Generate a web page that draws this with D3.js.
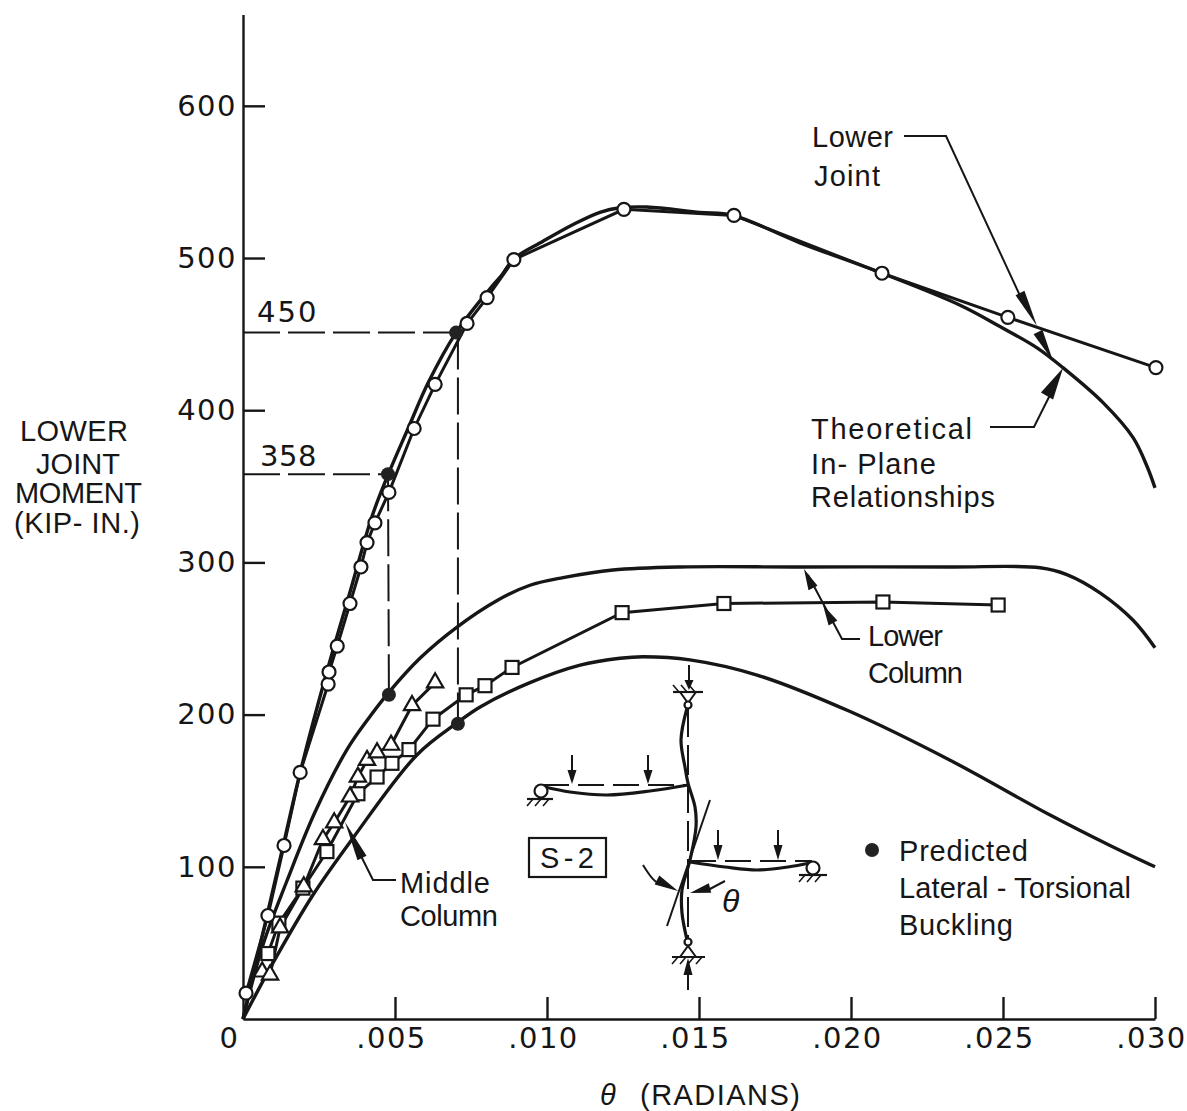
<!DOCTYPE html>
<html>
<head>
<meta charset="utf-8">
<script src="https://cdn.jsdelivr.net/npm/d3@7"></script>
<style>
  body { margin: 0; background: #fff; }
  text { fill: #161616; }
  .axis text, .num { font-family: "DejaVu Sans", sans-serif; font-size: 29px; letter-spacing: 1.5px; }
  .axis line, .axis path { stroke: #161616; stroke-width: 2.4px; }
  .note { font-family: "Liberation Sans", Arial, sans-serif; font-size: 29px; }
</style>
</head>
<body>
<div id="chart"></div>
<script>
// Tick labels
const xTicks = [0, 0.005, 0.010, 0.015, 0.020, 0.025, 0.030];
const xTickLabels = ["0", ".005", ".010", ".015", ".020", ".025", ".030"];
const yTicks = [100, 200, 300, 400, 500, 600];

// Test points: rotation, moment
const circleTheta = [.0001, .00082, .00135, .00188, .0028, .00283, .0031, .00352, .00388, .00408, .00434, .0048, .00563, .00632, .00737, .00803, .00891, .01253, .01615, .02102, .02516, .03003];
const circleMoment = [17, 68, 114, 162, 220, 228, 245, 273, 297, 313, 326, 346, 388, 417, 457, 474, 499, 532, 528, 490, 461, 428];

const squareTheta = [.00082, .00118, .00197, .00276, .00378, .00441, .0049, .00546, .00625, .00734, .00796, .00885, .01247, .01582, .02105, .02484];
const squareMoment = [43, 63, 86, 110, 148, 159, 168, 177, 197, 213, 219, 231, 267, 273, 274, 272];

const triangleTheta = [.00063, .00089, .00122, .002, .00263, .003, .00352, .00378, .00408, .00441, .00487, .00556, .00632];
const triangleMoment = [31, 29, 60, 87, 118, 129, 146, 159, 170, 175, 180, 206, 221];

// Predicted lateral-torsional buckling
const buckTheta = [.00477, .00701, .0048, .00707];
const buckMoment = [358, 451, 213, 194];

// Theoretical in-plane curves
const jointTheta = [0, .00072, .00138, .00188, .00273, .00352, .00424, .00477, .00543, .00609, .00701, .00813, .00852, .00891, .00987, .01086, .01174, .0124, .01329, .01503, .01612, .01832, .02102, .02359, .0249, .02612, .02697, .02829, .02928, .02974, .03];
const jointMoment = [0, 62, 119, 162, 226, 280.5, 330, 357.5, 388, 418, 451, 480, 489, 499.5, 511, 522, 530, 533, 533.5, 530, 528, 510, 490, 469, 455, 441, 428, 405, 382, 363, 349];

const lowerTheta = [0, .00066, .00145, .00237, .00342, .00411, .00477, .00582, .00704, .00836, .00944, .01053, .01217, .01438, .01832, .02326, .02622, .0271, .02819, .02928, .03];
const lowerMoment = [0, 49, 91, 136, 177, 197, 214, 237, 257.5, 275, 285, 290, 295, 297, 297, 297, 296.5, 292, 280, 262, 244];

const middleTheta = [0, .00099, .0023, .00362, .00572, .00704, .0078, .00944, .01109, .0124, .01316, .0147, .01691, .01997, .02326, .02655, .02852, .03];
const middleMoment = [0, 37, 81.5, 119, 173.5, 194.5, 205, 221, 232.5, 237, 238, 236, 226, 202, 170, 134, 114, 100];

const svgW = 1187, svgH = 1111;
const ink = "#161616";

const svg = d3.select("#chart").append("svg")
    .attr("width", svgW)
    .attr("height", svgH)
    .style("display", "block");

const xScale = d3.scaleLinear().domain([0, 0.030]).range([243, 1155]);
const yScale = d3.scaleLinear().domain([0, 660]).range([1019, 14.5]);

// X axis, ticks point up into the plot
const xAxis = svg.append("g")
    .attr("class", "axis")
    .attr("transform", `translate(0, ${yScale(0)})`)
    .call(d3.axisBottom(xScale).tickValues(xTicks)
        .tickFormat((d, i) => xTickLabels[i])
        .tickSize(-22).tickSizeOuter(0).tickPadding(8));
xAxis.selectAll("text").attr("dx", (d, i) => i === 0 ? -14 : -4);
xAxis.selectAll(".tick").filter(d => d === 0).select("line").remove();

// Y axis, ticks point right
const yAxis = svg.append("g")
    .attr("class", "axis")
    .attr("transform", `translate(${xScale(0)}, 0)`)
    .call(d3.axisLeft(yScale).tickValues(yTicks)
        .tickSize(-22).tickSizeOuter(0).tickPadding(6));

const zip = (xs, ys) => xs.map((x, i) => ({ x, y: ys[i] }));

const smooth = d3.line().x(d => xScale(d.x)).y(d => yScale(d.y)).curve(d3.curveCatmullRom.alpha(0.5));
const straight = d3.line().x(d => xScale(d.x)).y(d => yScale(d.y));

// Dashed guides to the buckling points
const guides = [
    [{ x: 0, y: 451 }, { x: buckTheta[1], y: 451 }],
    [{ x: 0, y: 358 }, { x: buckTheta[0], y: 358 }],
    [{ x: buckTheta[0], y: 358 }, { x: buckTheta[2], y: 213 }],
    [{ x: buckTheta[3], y: 451 }, { x: buckTheta[3], y: 194 }]
];
svg.selectAll(".guide").data(guides).join("path")
    .attr("class", "guide")
    .attr("d", straight)
    .attr("fill", "none")
    .attr("stroke", ink)
    .attr("stroke-width", 2)
    .attr("stroke-dasharray", "37 8");

// Theoretical curves
[[jointTheta, jointMoment], [lowerTheta, lowerMoment], [middleTheta, middleMoment]].forEach(([t, m]) => {
    svg.append("path")
        .attr("d", smooth(zip(t, m)))
        .attr("fill", "none")
        .attr("stroke", ink)
        .attr("stroke-width", 3.4);
});

// Test lines
[[circleTheta, circleMoment], [squareTheta, squareMoment], [triangleTheta, triangleMoment]].forEach(([t, m]) => {
    svg.append("path")
        .attr("d", straight(zip(t, m)))
        .attr("fill", "none")
        .attr("stroke", ink)
        .attr("stroke-width", 3);
});

// Markers
const markerStyle = sel => sel.attr("fill", "#fff").attr("stroke", ink).attr("stroke-width", 2.2);

svg.selectAll(".sq").data(zip(squareTheta, squareMoment)).join("rect")
    .attr("class", "sq")
    .attr("x", d => xScale(d.x) - 6.5)
    .attr("y", d => yScale(d.y) - 6.5)
    .attr("width", 13)
    .attr("height", 13)
    .call(markerStyle);

svg.selectAll(".tri").data(zip(triangleTheta, triangleMoment)).join("path")
    .attr("class", "tri")
    .attr("d", d3.symbol(d3.symbolTriangle, 115))
    .attr("transform", d => `translate(${xScale(d.x)}, ${yScale(d.y)})`)
    .call(markerStyle);

svg.selectAll(".circ").data(zip(circleTheta, circleMoment)).join("circle")
    .attr("class", "circ")
    .attr("cx", d => xScale(d.x))
    .attr("cy", d => yScale(d.y))
    .attr("r", 6.5)
    .call(markerStyle);

svg.selectAll(".buck").data(zip(buckTheta, buckMoment)).join("circle")
    .attr("class", "buck")
    .attr("cx", d => xScale(d.x))
    .attr("cy", d => yScale(d.y))
    .attr("r", 7)
    .attr("fill", "#222");

// Helpers for the annotations
function poly(points, width = 2, fill = "none") {
    return svg.append("path")
        .attr("d", d3.line()(points))
        .attr("fill", fill)
        .attr("stroke", ink)
        .attr("stroke-width", width);
}
function curve(points, width = 3.2) {
    return svg.append("path")
        .attr("d", d3.line().curve(d3.curveCatmullRom)(points))
        .attr("fill", "none")
        .attr("stroke", ink)
        .attr("stroke-width", width);
}
function head(x0, y0, x1, y1, w = 5) {
    const len = Math.hypot(x1 - x0, y1 - y0);
    const nx = -(y1 - y0) / len * w, ny = (x1 - x0) / len * w;
    svg.append("path")
        .attr("d", d3.line()([[x0 + nx, y0 + ny], [x1, y1], [x0 - nx, y0 - ny]]) + "Z")
        .attr("fill", ink);
}
// text stretched to the width it has in the picture
function label(x, y, str, len, anchor = "start", cls = "note") {
    return svg.append("text")
        .attr("class", cls)
        .attr("x", x)
        .attr("y", y)
        .attr("text-anchor", anchor)
        .attr("textLength", len)
        .text(str);
}
function hatch(x0, x1, y, down) {
    poly([[x0, y], [x1, y]], 2.2);
    for (let x = x0 + 6; x < x1; x += 8) {
        poly([[x, y], [x - 6, y + (down ? 7 : -7)]], 1.6);
    }
}

// Axis titles
label(20, 441, "LOWER", 108);
label(36, 474, "JOINT", 84);
label(15, 503, "MOMENT", 127);
label(14, 533, "(KIP- IN.)", 126);
label(600, 1105, "θ", 22).style("font-style", "italic");
label(640, 1105, "(RADIANS)", 160);

label(257, 322, "450", 61, "start", "num");
label(260, 466, "358", 58, "start", "num");

// Curve labels and leaders
label(812, 147, "Lower", 81);
label(814, 186, "Joint", 66);
poly([[904, 136], [946, 136], [1022, 300]]);
head(1020, 293, 1037, 326);
head(1038, 332, 1053, 361);

label(811, 439, "Theoretical", 161);
label(811, 474, "In- Plane", 125);
label(811, 507, "Relationships", 184);
poly([[990, 427], [1034, 427], [1050, 395]]);
head(1047, 396, 1063, 368, 7);

label(868, 646, "Lower", 75);
label(868, 683, "Column", 95);
poly([[860, 639], [842, 639], [808, 575]]);
head(813, 588, 804, 569);
head(833, 623, 823, 605);

label(400, 893, "Middle", 90);
label(400, 926, "Column", 98);
poly([[396, 880], [373, 880], [358, 850]]);
head(362, 858, 345, 822);

// Legend for the predicted points
svg.append("circle").attr("cx", 872).attr("cy", 850).attr("r", 7).attr("fill", "#222");
label(899, 861, "Predicted", 129);
label(899, 898, "Lateral - Torsional", 232);
label(899, 935, "Buckling", 114);

// Test frame sketch
svg.append("rect")
    .attr("x", 529).attr("y", 838).attr("width", 77).attr("height", 39)
    .attr("fill", "#fff").attr("stroke", ink).attr("stroke-width", 2.2);
label(540, 868, "S-2", 54);

poly([[688, 707], [688, 943]], 2).attr("stroke-dasharray", "30 8");
curve([[687, 708], [681, 740], [685, 767], [688, 783], [695, 807], [696, 827], [690, 860], [682, 890], [682, 913], [687, 940]]);
poly([[710, 800], [667, 926]], 2);

poly([[543, 785], [688, 785]], 2).attr("stroke-dasharray", "26 9");
curve([[688, 785], [650, 791], [607, 795], [570, 792], [545, 787]]);
poly([[690, 861], [812, 861]], 2).attr("stroke-dasharray", "26 9");
curve([[690, 862], [725, 867], [757, 870], [788, 867], [810, 863]]);

// Pins and supports
const pins = [[688, 705, 3.5], [688, 942, 3.5], [541, 791, 6.5], [813, 868, 6.5]];
hatch(673, 703, 692, false);
poly([[680, 692], [688, 703], [696, 692]], 2);
hatch(672, 705, 957, true);
poly([[680, 957], [688, 946], [696, 957]], 2);
hatch(527, 553, 799, true);
hatch(799, 827, 875, true);
pins.forEach(p => {
    svg.append("circle").attr("cx", p[0]).attr("cy", p[1]).attr("r", p[2])
        .attr("fill", "#fff").attr("stroke", ink).attr("stroke-width", 2.2);
});

// Load arrows
[[689, 665, 680, 690], [688, 990, 975, 958], [572, 755, 770, 784], [648, 755, 770, 784], [718, 830, 845, 860], [778, 830, 845, 860]].forEach(a => {
    poly([[a[0], a[1]], [a[0], a[2]]], 2);
    head(a[0], a[2], a[0], a[3], 4.5);
});

// Rotation arrows
curve([[643, 865], [655, 881], [666, 886]], 2);
head(657, 880, 678, 891, 5);
poly([[725, 881], [708, 890]], 2);
head(710, 888, 690, 893, 5);
label(722, 912, "θ", 24).style("font-style", "italic").style("font-size", "32px");
</script>
</body>
</html>
